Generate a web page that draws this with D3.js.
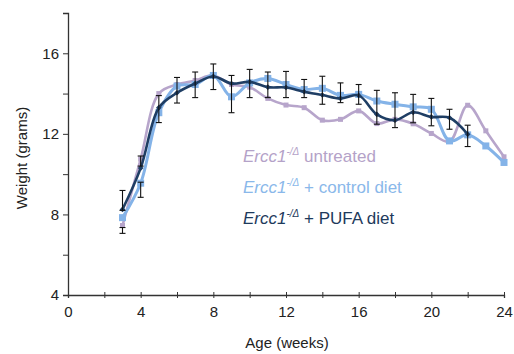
<!DOCTYPE html>
<html>
<head>
<meta charset="utf-8">
<script src="https://cdn.jsdelivr.net/npm/d3@7"></script>
<style>
  body { margin: 0; background: #fff; }
  svg { font-family: Arial, "Liberation Sans", sans-serif; }
</style>
</head>
<body>
<svg id="chart" width="514" height="354"></svg>
<script>
// Body weight of Ercc1 -/Δ mice by diet

const weeks = [3, 4, 5, 6, 7, 8, 9, 10, 11, 12, 13, 14, 15, 16, 17, 18, 19, 20, 21, 22, 23, 24]
const untreated = [7.45, 10.75, 14.0, 14.45, 14.65, 14.9, 14.45, 14.32, 13.76, 13.43, 13.3, 12.68, 12.72, 13.14, 12.51, 12.72, 12.5, 12.02, 11.62, 13.42, 12.15, 10.86]
const controlDiet = [7.84, 9.55, 13.05, 14.37, 14.45, 14.9, 13.84, 14.53, 14.75, 14.45, 14.2, 14.26, 13.91, 13.96, 13.63, 13.47, 13.34, 13.22, 11.65, 11.95, 11.4, 10.58]
const pufaDiet = [8.25, 10.3, 13.3, 14.04, 14.5, 14.85, 14.5, 14.58, 14.32, 14.3, 14.09, 13.93, 13.76, 13.91, 12.97, 12.68, 13.07, 12.84, 12.8, 11.98]

// error bars: week, low, high (grams)
const errWeeks = [3, 3, 4, 4, 5, 6, 7, 8, 9, 10, 11, 12, 13, 14, 15, 16, 17, 18, 19, 20, 21, 22]
const errLow = [8.2, 7.06, 10.4, 8.85, 12.56, 13.53, 13.8, 14.2, 13.05, 13.8, 13.8, 13.8, 13.8, 13.47, 13.55, 13.47, 12.48, 12.31, 12.55, 12.4, 12.23, 11.37]
const errHigh = [9.19, 7.35, 10.9, 9.6, 13.9, 14.8, 15.07, 15.47, 14.9, 15.2, 15.07, 15.1, 14.7, 14.86, 14.53, 14.45, 14.16, 14.04, 13.96, 13.76, 13.22, 12.43]

const xTicks = [0, 4, 8, 12, 16, 20, 24]
const yTicks = [4, 8, 12, 16]

const svg = d3.select('#chart')
const margin = { top: 13, right: 10, bottom: 59, left: 68 }
const width = 504 - margin.left
const height = 295 - margin.top

const g = svg.append('g').attr('transform', `translate(${margin.left},${margin.top})`)

const x = d3.scaleLinear().domain([0, 24]).range([0, width])
const y = d3.scaleLinear().domain([4, 18]).range([height, 0])

// Axes
const yAxis = g.append('g')
  .call(d3.axisLeft(y).tickValues(d3.range(4, 18.01, 2)).tickSize(5).tickFormat(d => yTicks.includes(d) ? d : ''))
yAxis.select('.domain').attr('stroke', '#333').attr('stroke-width', 1.3)
yAxis.selectAll('.tick line').attr('stroke', '#333')
yAxis.selectAll('text').attr('font-size', '15px').attr('fill', '#222').attr('x', -9)

const xAxis = g.append('g')
  .attr('transform', `translate(0,${height})`)
  .call(d3.axisBottom(x).tickValues(d3.range(0, 24.01, 2)).tickSize(3).tickFormat(d => xTicks.includes(d) ? d : ''))
xAxis.select('.domain').attr('stroke', '#333').attr('stroke-width', 1.3)
xAxis.selectAll('.tick line').attr('stroke', '#333').attr('y1', -3)
xAxis.selectAll('text').attr('font-size', '15px').attr('fill', '#222').attr('dy', '1.05em')

// Axis titles
svg.append('text')
  .attr('transform', `translate(27,${margin.top + height / 2 + 4}) rotate(-90)`)
  .attr('text-anchor', 'middle')
  .attr('font-size', '15px')
  .attr('fill', '#222')
  .text('Weight (grams)')

svg.append('text')
  .attr('x', margin.left + width / 2 + 1)
  .attr('y', 348)
  .attr('text-anchor', 'middle')
  .attr('font-size', '15px')
  .attr('fill', '#222')
  .text('Age (weeks)')

const series = [
  { name: 'untreated', values: untreated, color: '#b7a5cb', width: 2.6, marker: 5, shape: 'square' },
  { name: 'control', values: controlDiet, color: '#84b3e8', width: 3, marker: 7, shape: 'square' },
  { name: 'pufa', values: pufaDiet, color: '#1f3e64', width: 2.6, marker: 4, shape: 'diamond' }
]

const line = d3.line()
  .x(d => x(d[0]))
  .y(d => y(d[1]))
  .curve(d3.curveCatmullRom.alpha(0.5))

series.forEach(s => {
  const pts = s.values.map((v, i) => [weeks[i], v])
  g.append('path')
    .datum(pts)
    .attr('fill', 'none')
    .attr('stroke', s.color)
    .attr('stroke-width', s.width)
    .attr('d', line)

  g.selectAll(null)
    .data(pts)
    .enter()
    .append('rect')
    .attr('x', d => x(d[0]) - s.marker / 2)
    .attr('y', d => y(d[1]) - s.marker / 2)
    .attr('width', s.marker)
    .attr('height', s.marker)
    .attr('fill', s.color)
    .attr('transform', d => s.shape === 'diamond' ? `rotate(45,${x(d[0])},${y(d[1])})` : null)
})

// Error bars
const capW = 3
errWeeks.forEach((w, i) => {
  const cx = x(w)
  const bar = g.append('g').attr('stroke', '#111').attr('stroke-width', 1.1)
  bar.append('line').attr('x1', cx).attr('x2', cx).attr('y1', y(errLow[i])).attr('y2', y(errHigh[i]))
  bar.append('line').attr('x1', cx - capW).attr('x2', cx + capW).attr('y1', y(errLow[i])).attr('y2', y(errLow[i]))
  bar.append('line').attr('x1', cx - capW).attr('x2', cx + capW).attr('y1', y(errHigh[i])).attr('y2', y(errHigh[i]))
})

// Legend
const legendItems = [
  { label: ' untreated', color: '#b4a2c8' },
  { label: ' + control diet', color: '#8ab8ea' },
  { label: ' + PUFA diet', color: '#1e3a5c' }
]

legendItems.forEach((item, i) => {
  const t = svg.append('text')
    .attr('x', 243)
    .attr('y', 162 + i * 31)
    .attr('font-size', '17px')
    .attr('fill', item.color)
  t.append('tspan').attr('font-style', 'italic').text('Ercc1')
  t.append('tspan').attr('font-style', 'italic').attr('font-size', '10px').attr('dy', -7).text('-/Δ')
  t.append('tspan').attr('dy', 7).text(item.label)
})
</script>
</body>
</html>
